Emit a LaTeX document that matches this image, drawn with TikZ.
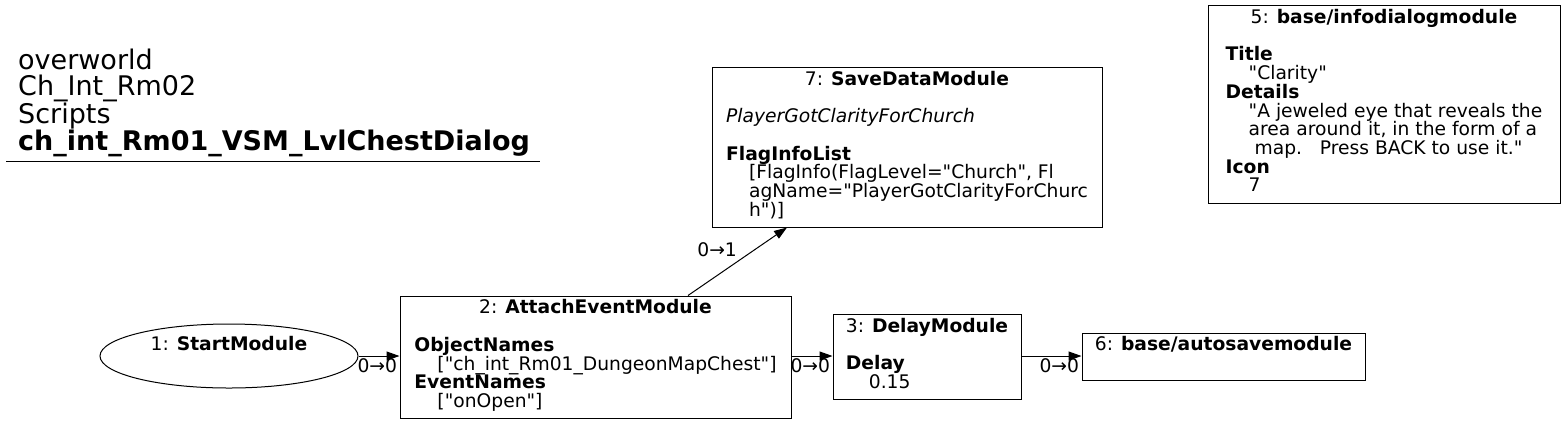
\documentclass[tikz,border=0pt]{standalone}
\usepackage{fontspec}
\usepackage{array}
\setmainfont{DejaVu Sans}[Ligatures=TeXOff]
\usetikzlibrary{arrows.meta,shapes.geometric}
\newcommand{\ind}{\hspace*{23pt}}
\newcolumntype{L}{>{\setbox0=\hbox\bgroup}l<{\egroup\smash{\box0}}}
\newcolumntype{C}{>{\setbox0=\hbox\bgroup}c<{\egroup\smash{\box0}}}
\tikzset{
  module/.style={draw, rectangle, inner sep=0pt, line width=1pt},
  edge/.style={draw, line width=1pt, -{Triangle[length=13pt,width=9pt]}},
  lbl/.style={inner sep=0pt, font=\fontsize{18.7}{19}\selectfont},
}
\begin{document}
\begin{tikzpicture}[x=1pt,y=-1pt,font=\fontsize{18.7}{18.7}\selectfont]
\useasboundingbox (0,0) rectangle (1565,424);
\node[anchor=south west, inner xsep=12pt, inner ysep=4pt, align=left,
      font=\fontsize{27}{26}\selectfont] (title) at (6,161)
  {overworld\\Ch\_Int\_Rm02\\Scripts\\\textbf{ch\_int\_Rm01\_VSM\_LvlChestDialog}};
\draw[line width=1pt] (title.south west) -- ++(534,0);

\node[draw, ellipse, line width=1pt, minimum width=258, minimum height=64, inner sep=0pt] (start) at (229,356)
  {\begin{tabular}{@{}C@{}}1: \textbf{StartModule}\\ \mbox{}\end{tabular}};
\node[module, minimum width=391, minimum height=122] (attach) at (595.5,357)
  {\begin{tabular}{@{}L@{}}
   \multicolumn{1}{@{}C@{}}{2: \textbf{AttachEventModule}}\\ \mbox{}\\
   \textbf{ObjectNames}\\
   \ind["ch\_int\_Rm01\_DungeonMapChest"]\\
   \textbf{EventNames}\\
   \ind["onOpen"]
   \end{tabular}};
\node[module, minimum width=188, minimum height=85] (delay) at (927,356.5)
  {\begin{tabular}{@{}L@{}}
   \multicolumn{1}{@{}C@{}}{3: \textbf{DelayModule}}\\ \mbox{}\\
   \textbf{Delay}\\
   \ind 0.15
   \end{tabular}};
\node[module, minimum width=283, minimum height=47] (autosave) at (1223.5,356.5)
  {\begin{tabular}{@{}C@{}}6: \textbf{base/autosavemodule}\\ \mbox{}\end{tabular}};
\node[module, minimum width=390, minimum height=160] (save) at (907,147)
  {\begin{tabular}{@{}L@{}}
   \multicolumn{1}{@{}C@{}}{7: \textbf{SaveDataModule}}\\ \mbox{}\\
   \textit{PlayerGotClarityForChurch}\\ \mbox{}\\
   \textbf{FlagInfoList}\\
   \ind[FlagInfo(FlagLevel="Church", Fl\\
   \ind agName="PlayerGotClarityForChurc\\
   \ind h")]
   \end{tabular}};
\node[module, minimum width=352, minimum height=198] (info) at (1384,104)
  {\begin{tabular}{@{}L@{}}
   \multicolumn{1}{@{}C@{}}{5: \textbf{base/infodialogmodule}}\\ \mbox{}\\
   \textbf{Title}\\
   \ind"Clarity"\\
   \textbf{Details}\\
   \ind"A jeweled eye that reveals the\\
   \ind area around it, in the form of a\\
   \ind\ map.\ \ \ Press BACK to use it."\\
   \textbf{Icon}\\
   \ind 7
   \end{tabular}};

\draw[edge] (start.east) -- (attach.west |- start.east)
  node[lbl, pos=1, anchor=north east, xshift=-2pt, yshift=-2pt] {0→0};
\draw[edge] (attach.east |- start.east) -- (delay.west |- start.east)
  node[lbl, pos=1, anchor=north east, xshift=-2pt, yshift=-2pt] {0→0};
\draw[edge] (delay.east |- start.east) -- (autosave.west |- start.east)
  node[lbl, pos=1, anchor=north east, xshift=-2pt, yshift=-2pt] {0→0};
\draw[edge] ([xshift=92.5pt]attach.north) -- ([xshift=-120pt]save.south)
  node[lbl, pos=0.68, anchor=east, xshift=-18pt] {0→1};
\end{tikzpicture}
\end{document}
